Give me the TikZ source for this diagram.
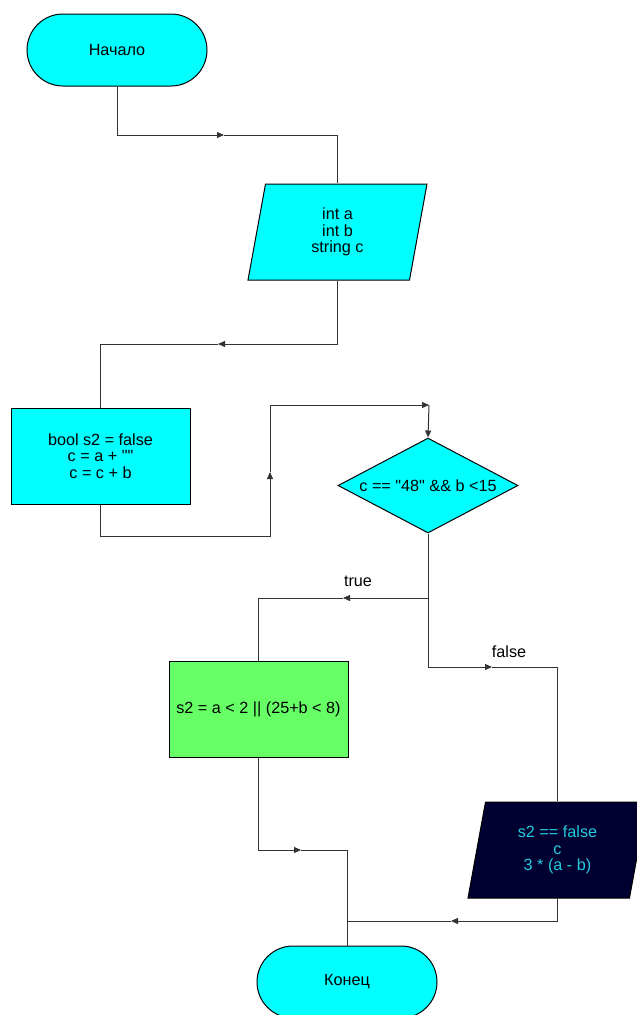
\documentclass[tikz,border=0pt]{standalone}
\usepackage{fontspec}
\newfontfamily\plainsans{Liberation Sans}
\usetikzlibrary{shapes.geometric,shapes.misc,arrows.meta}
\definecolor{boxcyan}{HTML}{00FFFF}
\definecolor{boxgreen}{HTML}{66FF66}
\definecolor{boxdark}{HTML}{000030}
\definecolor{darktext}{HTML}{22CCDD}
\definecolor{linegray}{HTML}{333333}
\begin{document}
\begin{tikzpicture}[x=1pt,y=-1pt,
  base/.style={draw=black, line width=1pt, font=\plainsans\fontsize{16.2}{16.5}\selectfont, align=center, inner sep=0pt},
  term/.style={base, rounded rectangle, fill=boxcyan, minimum width=180pt, minimum height=72pt},
  io/.style={base, trapezium, trapezium left angle=70, trapezium right angle=110, trapezium stretches body, fill=boxcyan, minimum width=179pt, minimum height=96pt},
  proc/.style={base, rectangle, fill=boxcyan, minimum width=179pt, minimum height=96pt},
  dec/.style={base, diamond, aspect=1.9, fill=boxcyan, minimum width=180pt, minimum height=95pt},
  conn/.style={draw=linegray, line width=1pt},
  tip/.style={conn, -{Triangle[length=7pt,width=6pt]}},
  lbl/.style={font=\plainsans\fontsize{16.2}{16.5}\selectfont, inner sep=0pt}]
\useasboundingbox (0,0) rectangle (637,1015);
\clip (0,0) rectangle (637,1015);

\node[term] (start) at (117,50) {Начало};
\node[io] (in1) at (337.5,232) {int a\\int b\\string c};
\node[proc] (p1) at (100.5,456) {bool s2 = false\\c = a + ""\\c = c + b};
\node[dec] (d1) at (428,485.5) {c == "48" \&\& b <15};
\node[proc, fill=boxgreen] (p2) at (258.5,709) {s2 = a < 2 || (25+b < 8)};
\node[io, fill=boxdark, text=darktext] (out1) at (557.5,850) {s2 == false\\c\\3 * (a - b)};
\node[term] (end) at (347,982) {Конец};

\coordinate (k1) at (224,135);
\coordinate (k2) at (218,344);
\coordinate (k3) at (270,472);
\coordinate (k4) at (429,405);
\coordinate (j1) at (428,598);
\coordinate (k5) at (343,598);
\coordinate (k6) at (492,667);
\coordinate (k7) at (301,850);
\coordinate (k8) at (451,921);

\draw[tip] (start.south) |- (k1);
\draw[conn] (k1) -| (in1.north);

\draw[tip] (in1.south) |- (k2);
\draw[conn] (k2) -| (p1.north);

\draw[tip] (p1.south) -- ++(0,32) -| (k3);
\draw[tip] (k3) |- (k4);
\draw[tip] (k4) -- (d1.north);

\draw[conn] (d1.south) -- (j1);
\draw[tip] (j1) -- (k5);
\draw[conn] (k5) -| (p2.north);
\node[lbl] (ltrue) at (358,581) {true};

\draw[tip] (j1) |- (k6);
\draw[conn] (k6) -| (out1.north);
\node[lbl] (lfalse) at (509,652) {false};

\draw[tip] (p2.south) |- (k7);
\draw[conn] (k7) -| (end.north);

\draw[tip] (out1.south) |- (k8);
\draw[conn] (k8) -| (end.north);
\end{tikzpicture}
\end{document}
